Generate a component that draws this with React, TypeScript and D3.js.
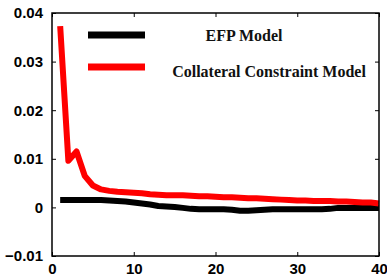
import React, { useEffect, useRef } from 'react';
import * as d3 from 'd3';

const periods = d3.range(1, 41);

const efpModel = [
  0.0015, 0.0015, 0.0015, 0.0015, 0.0015, 0.0015, 0.0014, 0.0013, 0.0012, 0.001,
  0.0008, 0.0006, 0.0003, 0.0002, 0.0001, -0.0001, -0.0003, -0.0004, -0.0004, -0.0004,
  -0.0004, -0.0005, -0.0007, -0.0007, -0.0006, -0.0005, -0.0004, -0.0004, -0.0004, -0.0004,
  -0.0004, -0.0004, -0.0004, -0.0003, -0.0001, -0.0001, -0.0001, -0.0001, -0.0001, -0.0001,
];

const collateralModel = [
  0.0373, 0.0096, 0.0115, 0.0065, 0.0045, 0.0037, 0.0034, 0.0032, 0.0031, 0.003,
  0.0029, 0.0027, 0.0026, 0.0025, 0.0025, 0.0025, 0.0024, 0.0023, 0.0023, 0.0022,
  0.0021, 0.0021, 0.002, 0.0019, 0.0019, 0.0018, 0.0017, 0.0016, 0.0015, 0.0014,
  0.0014, 0.0013, 0.0013, 0.0013, 0.0012, 0.0012, 0.0011, 0.001, 0.001, 0.0008,
];

const xTicks = [0, 10, 20, 30, 40];
const yTicks = [-0.01, 0, 0.01, 0.02, 0.03, 0.04];

const seriesList = [
  { name: 'EFP Model', values: efpModel, color: '#000000' },
  { name: 'Collateral Constraint Model', values: collateralModel, color: '#ff0000' },
];

export default function App() {
  const ref = useRef<SVGSVGElement>(null);

  useEffect(() => {
    const width = 387;
    const height = 279;
    const margin = { top: 13, right: 8, bottom: 23, left: 52 };

    const svg = d3.select(ref.current);
    svg.selectAll('*').remove();

    const x = d3.scaleLinear().domain([0, 40]).range([margin.left, width - margin.right]);
    const y = d3.scaleLinear().domain([-0.01, 0.04]).range([height - margin.bottom, margin.top]);

    const line = d3
      .line<number>()
      .x((d, i) => x(periods[i]))
      .y((d) => y(d));

    seriesList.forEach((s) => {
      svg
        .append('path')
        .datum(s.values)
        .attr('fill', 'none')
        .attr('stroke', s.color)
        .attr('stroke-width', 6)
        .attr('stroke-linejoin', 'round')
        .attr('d', line);
    });

    // box
    svg
      .append('rect')
      .attr('x', x(0))
      .attr('y', y(0.04))
      .attr('width', x(40) - x(0))
      .attr('height', y(-0.01) - y(0.04))
      .attr('fill', 'none')
      .attr('stroke', 'black')
      .attr('stroke-width', 1.5);

    const fmt = (v: number) => (v === 0 ? '0' : d3.format('.2f')(v));

    // inward ticks on all sides
    const axes = [
      { gen: d3.axisBottom(x).tickValues(xTicks), t: `translate(0,${y(-0.01)})`, labels: true, pad: 7 },
      { gen: d3.axisTop(x).tickValues(xTicks), t: `translate(0,${y(0.04)})`, labels: false, pad: 7 },
      { gen: d3.axisLeft(y).tickValues(yTicks).tickFormat((d) => fmt(+d)), t: `translate(${x(0)},0)`, labels: true, pad: 9 },
      { gen: d3.axisRight(y).tickValues(yTicks), t: `translate(${x(40)},0)`, labels: false, pad: 7 },
    ];
    axes.forEach((a) => {
      const g = svg
        .append('g')
        .attr('transform', a.t)
        .call(a.gen.tickSizeInner(-4).tickSizeOuter(0).tickPadding(a.pad) as any);
      g.select('.domain').remove();
      g.selectAll('.tick line').attr('stroke', 'black').attr('stroke-width', 1);
      g.selectAll('.tick text')
        .attr('fill', 'black')
        .style('font-family', 'Liberation Sans, Arial, sans-serif')
        .style('font-weight', 'bold')
        .style('font-size', '15px');
      if (!a.labels) g.selectAll('.tick text').remove();
    });

    // legend
    const legend = [
      { y: 35, textX: 244, textY: 41 },
      { y: 67, textX: 269, textY: 77 },
    ];
    seriesList.forEach((s, i) => {
      svg
        .append('line')
        .attr('x1', 88)
        .attr('x2', 145)
        .attr('y1', legend[i].y)
        .attr('y2', legend[i].y)
        .attr('stroke', s.color)
        .attr('stroke-width', 7);
      svg
        .append('text')
        .attr('x', legend[i].textX)
        .attr('y', legend[i].textY)
        .attr('text-anchor', 'middle')
        .style('font-family', 'Liberation Serif, Times New Roman, serif')
        .style('font-weight', 'bold')
        .style('font-size', '16px')
        .attr('fill', '#111')
        .text(s.name);
    });
  }, []);

  return (
    <div>
      <svg ref={ref} width={387} height={279} style={{ position: 'absolute', left: 0, top: 0, background: 'white' }} />
    </div>
  );
}
